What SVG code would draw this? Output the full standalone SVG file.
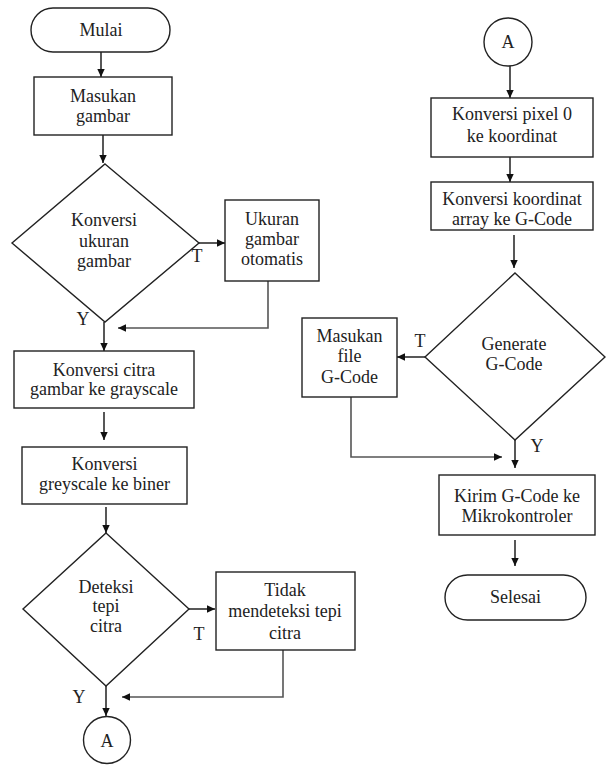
<svg xmlns="http://www.w3.org/2000/svg" width="606" height="765" viewBox="0 0 606 765">
<defs>
<marker id="ah" markerUnits="userSpaceOnUse" markerWidth="10" markerHeight="10" viewBox="0 0 10 10" refX="9" refY="5" orient="auto">
<path d="M1,1.3 L9,5 L1,8.7 Z" fill="#111"/>
</marker>
<style>
.s{fill:#fff;stroke:#222;stroke-width:1.4}
.c{fill:none;stroke:#111;stroke-width:1.4}
.r{fill:none;stroke:#555;stroke-width:1.6}
</style>
</defs>
<rect width="606" height="765" fill="#fff"/>
<g id="connectors">
<path class="c" d="M101 52 V77" marker-end="url(#ah)"/>
<path class="c" d="M103 135 V163" marker-end="url(#ah)"/>
<path class="c" d="M199 243 H225" marker-end="url(#ah)"/>
<path class="r" d="M268 281 V328 H118" marker-end="url(#ah)"/>
<path class="c" d="M104 322 V351" marker-end="url(#ah)"/>
<path class="c" d="M104 412 V440" marker-end="url(#ah)"/>
<path class="c" d="M106 507 V533" marker-end="url(#ah)"/>
<path class="c" d="M189 609 H215" marker-end="url(#ah)"/>
<path class="r" d="M283 650 V697 H122" marker-end="url(#ah)"/>
<path class="c" d="M106 686 V716" marker-end="url(#ah)"/>
<path class="c" d="M510 66 V98" marker-end="url(#ah)"/>
<path class="c" d="M510 157 V182" marker-end="url(#ah)"/>
<path class="c" d="M514 235 V268" marker-end="url(#ah)"/>
<path class="c" d="M425 357 H397" marker-end="url(#ah)"/>
<path class="r" d="M351 397 V457 H502" marker-end="url(#ah)"/>
<path class="c" d="M515 440 V468" marker-end="url(#ah)"/>
<path class="c" d="M515 540 V566" marker-end="url(#ah)"/>
</g>
<g font-family="'Times New Roman', Times, 'Liberation Serif', 'Noto Serif', 'DejaVu Serif', Tinos, serif" font-size="18" text-anchor="middle" fill="#222">
<g id="mulai"><rect class="s" x="31" y="8" width="139" height="44" rx="22"/><text x="101" y="36">Mulai</text></g>
<g id="masukan"><rect class="s" x="34" y="77" width="138" height="58"/><text x="103" y="102">Masukan</text><text x="103" y="122">gambar</text></g>
<g id="d1"><polygon class="s" points="105,164 199,243 105,322 12,243"/><text x="104" y="226">Konversi</text><text x="104" y="247">ukuran</text><text x="104" y="267">gambar</text></g>
<g id="ukuran"><rect class="s" x="225" y="200" width="94" height="81"/><text x="272" y="225">Ukuran</text><text x="272" y="245">gambar</text><text x="272" y="265">otomatis</text></g>
<g id="grayscale"><rect class="s" x="14" y="351" width="180" height="57"/><text x="104" y="376">Konversi citra</text><text x="104" y="395">gambar ke grayscale</text></g>
<g id="biner"><rect class="s" x="22" y="447" width="165" height="57"/><text x="104.5" y="470">Konversi</text><text x="104.5" y="490">greyscale ke biner</text></g>
<g id="d2"><polygon class="s" points="106,533 189,609 106,686 23,609"/><text x="106" y="593">Deteksi</text><text x="106" y="612">tepi</text><text x="106" y="632">citra</text></g>
<g id="tidak"><rect class="s" x="216" y="572" width="139" height="78"/><text x="285" y="596">Tidak</text><text x="285" y="617">mendeteksi tepi</text><text x="285" y="639">citra</text></g>
<g id="a1"><circle class="s" cx="107" cy="740" r="23.5"/><text x="107" y="747">A</text></g>
<g id="a2"><circle class="s" cx="508" cy="42" r="24"/><text x="508" y="48">A</text></g>
<g id="pixel"><rect class="s" x="431" y="98" width="162" height="59"/><text x="512" y="120">Konversi pixel 0</text><text x="512" y="142">ke koordinat</text></g>
<g id="gcode"><rect class="s" x="431" y="182" width="162" height="48"/><text x="512" y="205">Konversi koordinat</text><text x="512" y="225">array ke G-Code</text></g>
<g id="d3"><polygon class="s" points="515,273 605,357 515,440 425,357"/><text x="514" y="350">Generate</text><text x="514" y="370">G-Code</text></g>
<g id="file"><rect class="s" x="302" y="318" width="95" height="79"/><text x="349.5" y="342">Masukan</text><text x="349.5" y="362">file</text><text x="349.5" y="383">G-Code</text></g>
<g id="kirim"><rect class="s" x="439" y="475" width="156" height="60"/><text x="517" y="502">Kirim G-Code ke</text><text x="517" y="522">Mikrokontroler</text></g>
<g id="selesai"><rect class="s" x="445" y="575" width="141" height="45" rx="22.5"/><text x="515.5" y="603">Selesai</text></g>
<g id="labels">
<text x="197" y="262">T</text>
<text x="83" y="325">Y</text>
<text x="199" y="640">T</text>
<text x="79" y="703">Y</text>
<text x="420" y="347">T</text>
<text x="537" y="452">Y</text>
</g>
</g>
</svg>
